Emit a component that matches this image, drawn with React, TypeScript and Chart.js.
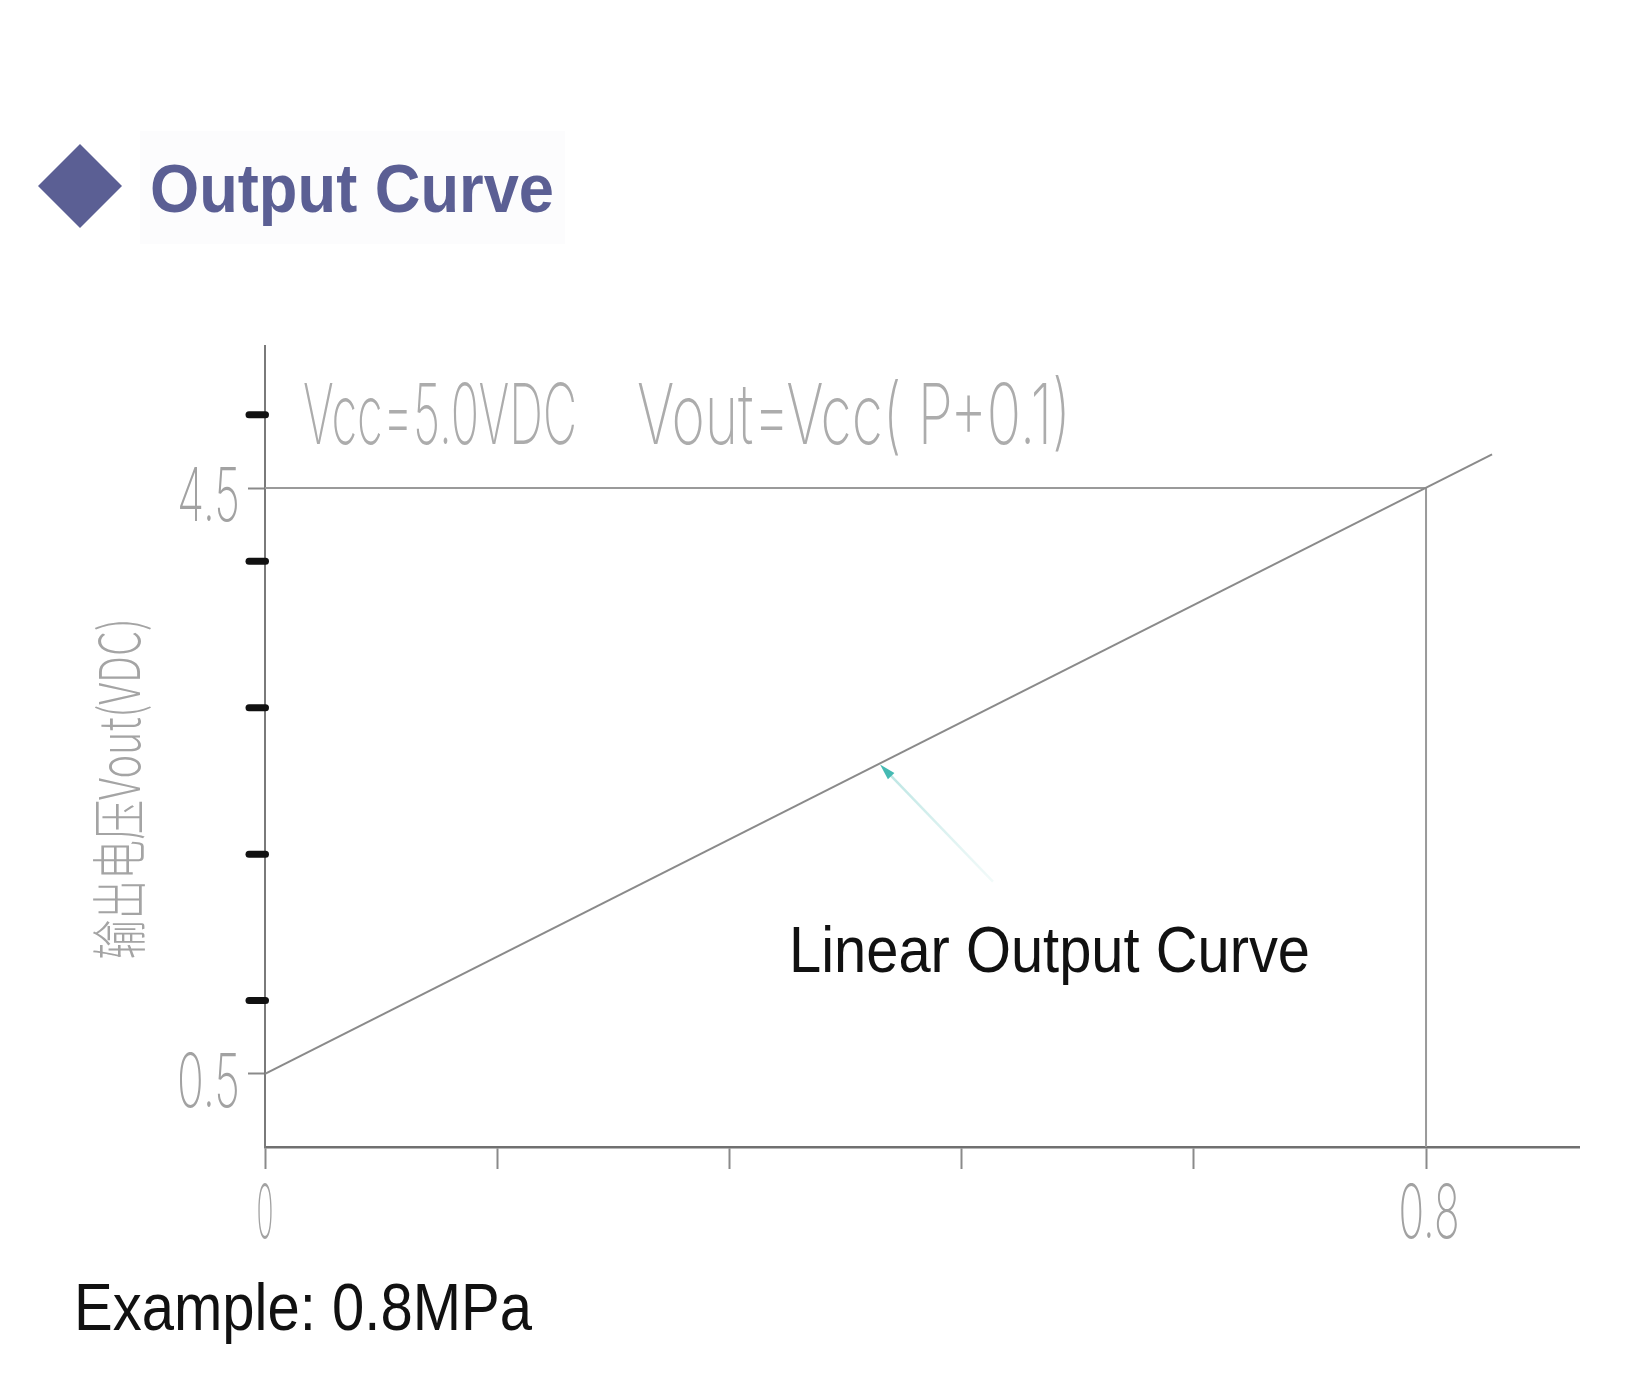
import React, { useEffect, useRef } from "react";
import { Chart, registerables } from "chart.js";

Chart.register(...registerables);

// ---- data ----
const outputCurveX = [0, 0.8455];
const outputCurveY = [0.5, 4.73];
const fullScaleX = [0, 0.8, 0.8];
const fullScaleY = [4.5, 4.5, 0];
const xTickValues = [0, 0.16, 0.32, 0.48, 0.64, 0.8];
const xTickLabels = ["0", "", "", "", "", "0.8"];
const yTickValues = [0.5, 4.5];
const yTickLabels = ["0.5", "4.5"];
const yMarkValues = [1, 2, 3, 4, 5];
const arrowX = [0.5016, 0.4238];
const arrowY = [1.812, 2.612];
const X_MAX = 0.9054;
const Y_MAX = 5.47;

const TITLE = "Output Curve";
const FORMULA_LEFT = "Vcc=5.0VDC";
const FORMULA_RIGHT = "Vout=Vcc( P+0.1)";
const Y_TITLE = "输出电压Vout(VDC)";
const CURVE_NOTE = "Linear Output Curve";
const EXAMPLE = "Example: 0.8MPa";

const CAD_FONT = "Inter, Roboto, 'DejaVu Sans', sans-serif";
const CAD_COLOR = "#a2a2a2";

function fitText(
  ctx: CanvasRenderingContext2D,
  text: string,
  x: number,
  baseline: number,
  font: string,
  width: number,
  color: string,
  align: CanvasTextAlign = "left"
) {
  ctx.save();
  ctx.font = font;
  const w = ctx.measureText(text).width || 1;
  ctx.translate(x, baseline);
  ctx.scale(width / w, 1);
  ctx.fillStyle = color;
  ctx.textBaseline = "alphabetic";
  ctx.textAlign = align;
  ctx.fillText(text, 0, 0);
  ctx.restore();
}

const decorPlugin = {
  id: "decor",
  beforeDraw(chart: any) {
    const ctx: CanvasRenderingContext2D = chart.ctx;
    ctx.save();
    ctx.fillStyle = "#ffffff";
    ctx.fillRect(0, 0, chart.width, chart.height);
    // faint title panel
    ctx.fillStyle = "#fcfcfd";
    ctx.fillRect(140, 131, 425, 113);
    ctx.restore();
  },
  afterDraw(chart: any) {
    const ctx: CanvasRenderingContext2D = chart.ctx;
    const xs = chart.scales.x;
    const ys = chart.scales.y;
    ctx.save();

    // title diamond + text
    ctx.fillStyle = "#5b5f94";
    ctx.beginPath();
    ctx.moveTo(80, 144);
    ctx.lineTo(122, 186);
    ctx.lineTo(80, 228);
    ctx.lineTo(38, 186);
    ctx.closePath();
    ctx.fill();
    fitText(ctx, TITLE, 150, 212, "bold 68px 'Liberation Sans', Arial, sans-serif", 404, "#5b5f94");

    // black marks on the y axis
    const x0 = xs.getPixelForValue(0);
    ctx.strokeStyle = "#111111";
    ctx.lineWidth = 7;
    ctx.lineCap = "round";
    yMarkValues.forEach((v) => {
      const p = ys.getPixelForValue(v);
      ctx.beginPath();
      ctx.moveTo(x0 - 16, p);
      ctx.lineTo(x0 + 0.5, p);
      ctx.stroke();
    });

    // y tick labels
    yTickValues.forEach((v, i) => {
      const p = ys.getPixelForValue(v);
      fitText(ctx, yTickLabels[i], x0 - 25, p + 33, `200 74px ${CAD_FONT}`, 63, CAD_COLOR, "right");
    });
    // x tick labels
    xTickValues.forEach((v, i) => {
      if (!xTickLabels[i]) return;
      const p = xs.getPixelForValue(v);
      const w = xTickLabels[i].length === 1 ? 17 : 61;
      fitText(ctx, xTickLabels[i], p + (i === 0 ? 0 : 3), 1238, `200 74px ${CAD_FONT}`, w, CAD_COLOR, "center");
    });

    // formula annotation
    fitText(ctx, FORMULA_LEFT, 303, 444, `200 84px ${CAD_FONT}`, 274, "#acacac");
    fitText(ctx, FORMULA_RIGHT, 637, 444, `200 84px ${CAD_FONT}`, 434, "#acacac");

    // rotated y axis title
    ctx.save();
    ctx.translate(140, 789);
    ctx.rotate(-Math.PI / 2);
    ctx.font = "200 56px 'Noto Sans CJK SC', 'Noto Sans', sans-serif";
    const tw = ctx.measureText(Y_TITLE).width || 1;
    ctx.scale(341 / tw, 1);
    ctx.fillStyle = "#a4a4a4";
    ctx.textAlign = "center";
    ctx.textBaseline = "alphabetic";
    ctx.fillText(Y_TITLE, 0, 0);
    ctx.restore();

    // teal arrow
    const ax0 = xs.getPixelForValue(arrowX[0]);
    const ay0 = ys.getPixelForValue(arrowY[0]);
    const ax1 = xs.getPixelForValue(arrowX[1]);
    const ay1 = ys.getPixelForValue(arrowY[1]);
    const ang = Math.atan2(ay1 - ay0, ax1 - ax0);
    const grad = ctx.createLinearGradient(ax0, ay0, ax1, ay1);
    grad.addColorStop(0, "rgba(150,215,210,0.12)");
    grad.addColorStop(1, "rgba(110,200,195,0.5)");
    ctx.strokeStyle = grad;
    ctx.lineWidth = 2.5;
    ctx.lineCap = "butt";
    ctx.beginPath();
    ctx.moveTo(ax0, ay0);
    ctx.lineTo(ax1 - 10 * Math.cos(ang), ay1 - 10 * Math.sin(ang));
    ctx.stroke();
    ctx.fillStyle = "#45bab3";
    ctx.beginPath();
    ctx.moveTo(ax1, ay1);
    ctx.lineTo(ax1 - 16 * Math.cos(ang) + 4.5 * Math.sin(ang), ay1 - 16 * Math.sin(ang) - 4.5 * Math.cos(ang));
    ctx.lineTo(ax1 - 16 * Math.cos(ang) - 4.5 * Math.sin(ang), ay1 - 16 * Math.sin(ang) + 4.5 * Math.cos(ang));
    ctx.closePath();
    ctx.fill();

    // black notes
    fitText(ctx, CURVE_NOTE, 789, 972, "64px 'Liberation Sans', Arial, sans-serif", 521, "#111111");
    fitText(ctx, EXAMPLE, 74, 1330, "66px 'Liberation Sans', Arial, sans-serif", 458, "#111111");

    ctx.restore();
  },
};

export default function App() {
  const ref = useRef<HTMLCanvasElement | null>(null);

  useEffect(() => {
    if (!ref.current) return;
    const chart = new Chart(ref.current, {
      type: "line",
      data: {
        datasets: [
          {
            label: "Output",
            data: outputCurveX.map((x, i) => ({ x, y: outputCurveY[i] })),
            borderColor: "#8a8a8a",
            borderWidth: 2,
            pointRadius: 0,
            fill: false,
            tension: 0,
          },
          {
            label: "Full scale",
            data: fullScaleX.map((x, i) => ({ x, y: fullScaleY[i] })),
            borderColor: "#9a9a9a",
            borderWidth: 2,
            pointRadius: 0,
            fill: false,
            tension: 0,
          },
        ],
      },
      options: {
        responsive: false,
        maintainAspectRatio: false,
        animation: false,
        events: [],
        layout: { padding: { left: 265, top: 346, right: 67, bottom: 233 } },
        plugins: {
          legend: { display: false },
          tooltip: { enabled: false },
          title: { display: false },
        },
        scales: {
          x: {
            type: "linear",
            min: 0,
            max: X_MAX,
            afterFit: (s: any) => {
              s.height = 0;
            },
            afterBuildTicks: (s: any) => {
              s.ticks = xTickValues.map((v) => ({ value: v }));
            },
            ticks: { display: false },
            grid: {
              display: true,
              drawOnChartArea: false,
              drawTicks: true,
              tickLength: 22,
              tickColor: "#8a8a8a",
              tickWidth: 2,
            },
            border: { display: true, color: "#707070", width: 2.5 },
          },
          y: {
            type: "linear",
            min: 0,
            max: Y_MAX,
            afterFit: (s: any) => {
              s.width = 0;
            },
            afterBuildTicks: (s: any) => {
              s.ticks = yTickValues.map((v) => ({ value: v }));
            },
            ticks: { display: false },
            grid: {
              display: true,
              drawOnChartArea: false,
              drawTicks: true,
              tickLength: 17,
              tickColor: "#8a8a8a",
              tickWidth: 2,
            },
            border: { display: true, color: "#7a7a7a", width: 2 },
          },
        },
      },
      plugins: [decorPlugin],
    } as any);
    return () => chart.destroy();
  }, []);

  return (
    <div style={{ position: "absolute", left: 0, top: 0, width: 1646, height: 1380, background: "#fff" }}>
      <canvas ref={ref} width={1646} height={1380} style={{ display: "block", width: 1646, height: 1380 }} />
    </div>
  );
}
